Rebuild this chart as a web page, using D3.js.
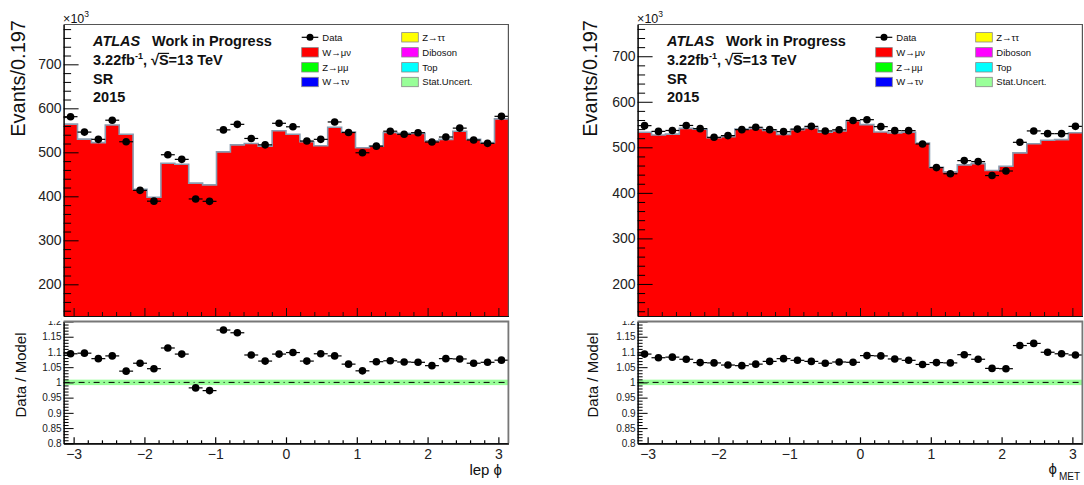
<!DOCTYPE html>
<html>
<head>
<meta charset="utf-8">
<script src="https://cdn.jsdelivr.net/npm/d3@7"></script>
<style>
  html, body { margin: 0; padding: 0; background: #fff; }
  svg { display: block; font-family: "Liberation Sans", Arial, Helvetica, sans-serif; }
</style>
</head>
<body>
<svg id="chart" width="1084" height="485"></svg>
<script>
// ---------------- data ----------------
const nBins = 32;
const binEdges = d3.range(nBins + 1).map(i => -Math.PI + i * 2 * Math.PI / nBins);

// left: lep phi  (values in units of 10^3 events)
const lepPhiModel = [564, 530, 522, 562, 541, 416, 398, 475, 473, 430, 426, 501, 517, 520, 514, 549,
                     541, 524, 515, 557, 546, 510.5, 514, 545, 543, 543, 526, 529.5, 548, 529.5, 522, 576];
const lepPhiData  = [581, 546, 529.5, 573, 524, 413.6, 389, 494.5, 484, 394, 388.6, 551, 563.6, 531.5, 517, 566,
                     558, 525.7, 529.5, 569, 545, 499, 514, 548, 541, 544.6, 523.4, 534.8, 555, 528, 520.4, 581.8];
const lepPhiRatio = [1.094, 1.096, 1.078, 1.087, 1.037, 1.063, 1.045, 1.113, 1.093, 0.982, 0.973, 1.172, 1.163, 1.090, 1.070, 1.093,
                     1.098, 1.070, 1.094, 1.087, 1.060, 1.038, 1.068, 1.071, 1.067, 1.066, 1.055, 1.078, 1.077, 1.063, 1.066, 1.073];

// right: MET phi
const metPhiModel = [533, 527, 529, 541.7, 540, 521, 523.5, 540, 541.7, 537.3, 528.5, 538.8, 542.5, 533, 536, 558.5,
                     549.8, 533.8, 531.5, 533, 509.6, 456, 446, 461.4, 464.3, 449, 458.4, 487.7, 508, 515.4, 517, 532];
const metPhiData  = [547.6, 535, 537, 548, 541, 522, 525.7, 538.8, 544, 538.8, 534.4, 540, 546, 536, 538.5, 559,
                     560.7, 545.4, 536.6, 536.6, 507.4, 455.5, 442, 470.8, 468.6, 438, 448, 511, 536, 530, 530, 546];
const metPhiRatio = [1.093, 1.081, 1.083, 1.076, 1.065, 1.064, 1.057, 1.055, 1.060, 1.069, 1.078, 1.0725, 1.069, 1.063, 1.067, 1.066,
                     1.088, 1.087, 1.077, 1.0725, 1.059, 1.065, 1.064, 1.091, 1.076, 1.046, 1.045, 1.121, 1.128, 1.099, 1.094, 1.090];

const statUnc = 0.009;

const yTicksTop   = [200, 300, 400, 500, 600, 700];
const ratioTicks  = [0.8, 0.85, 0.9, 0.95, 1.0, 1.05, 1.1, 1.15, 1.2];
const xTicks      = [-3, -2, -1, 0, 1, 2, 3];

const legendCol1 = ["Data", "W\u2192\u03bc\u03bd", "Z\u2192\u03bc\u03bc", "W\u2192\u03c4\u03bd"];
const legendCol2 = ["Z\u2192\u03c4\u03c4", "Diboson", "Top", "Stat.Uncert."];
const legendColors1 = [null, "#ff0000", "#00ff00", "#0000ff"];
const legendColors2 = ["#ffff00", "#ff00ff", "#00ffff", "#99ff99"];

const atlasLines = ["SR", "2015"];

// ---------------- layout ----------------
const svg = d3.select("#chart");
const topY0 = 24.5, topY1 = 316;
const ratY0 = 321.5, ratY1 = 443.3;

const panels = [
  { x0: 63.6, x1: 508.4, yDom: [128, 790.5], model: lepPhiModel, data: lepPhiData, ratio: lepPhiRatio,
    dx: 0, titleX: 25, xTitle: "lep", sub: null },
  { x0: 637.6, x1: 1082.4, yDom: [129.6, 769.7], model: metPhiModel, data: metPhiData, ratio: metPhiRatio,
    dx: 574, titleX: 597, xTitle: null, sub: "MET" }
];

panels.forEach((p, pi) => {
  const g = svg.append("g");
  const x = d3.scaleLinear().domain([-Math.PI, Math.PI]).range([p.x0, p.x1]);
  const y = d3.scaleLinear().domain(p.yDom).range([topY1, topY0]);
  const yr = d3.scaleLinear().domain([0.8, 1.2]).range([ratY1, ratY0]);

  const clipId = "clip" + pi;
  svg.append("clipPath").attr("id", clipId).append("rect")
    .attr("x", p.x0).attr("y", topY0).attr("width", p.x1 - p.x0).attr("height", topY1 - topY0);

  // ---- stacked histogram (W->munu dominant) ----
  const pts = p.model.map((v, i) => [binEdges[i], v]).concat([[binEdges[nBins], p.model[nBins - 1]]]);
  const area = d3.area().curve(d3.curveStepAfter).x(d => x(d[0])).y0(topY1).y1(d => y(d[1]));
  const line = d3.line().curve(d3.curveStepAfter).x(d => x(d[0])).y(d => y(d[1]));
  const hg = g.append("g").attr("clip-path", `url(#${clipId})`);
  hg.append("path").attr("d", area(pts)).attr("fill", "#ff0000");
  hg.append("path").attr("d", line(pts)).attr("fill", "none").attr("stroke", "#8a9cb0").attr("stroke-width", 1.6);

  // ---- data points ----
  const dg = g.append("g");
  p.data.forEach((v, i) => {
    dg.append("line").attr("x1", x(binEdges[i])).attr("x2", x(binEdges[i + 1]))
      .attr("y1", y(v)).attr("y2", y(v)).attr("stroke", "#000").attr("stroke-width", 1.2);
    dg.append("circle").attr("cx", x((binEdges[i] + binEdges[i + 1]) / 2)).attr("cy", y(v))
      .attr("r", 3.8).attr("fill", "#000");
  });

  // ---- top panel axes ----
  const yMajor = d3.axisLeft(y).tickValues(yTicksTop).tickSizeInner(-15).tickSizeOuter(0).tickPadding(2);
  const ya = g.append("g").attr("transform", `translate(${p.x0},0)`).call(yMajor);
  ya.selectAll("text").attr("font-size", 14).attr("fill", "#222").attr("font-family", "Liberation Sans, Arial, sans-serif");
  ya.selectAll("line, path").attr("stroke", "#000");
  const yMinorVals = d3.range(140, p.yDom[1], 20).filter(v => v % 100 !== 0);
  const yMin = d3.axisLeft(y).tickValues(yMinorVals).tickSizeInner(-7.5).tickSizeOuter(0).tickFormat("");
  g.append("g").attr("transform", `translate(${p.x0},0)`).call(yMin).selectAll("line, path").attr("stroke", "#000");

  const xMinorVals = d3.range(-15, 16).map(i => i * 0.2).filter(v => Math.abs(v - Math.round(v)) > 1e-6);
  const xTop = d3.axisBottom(x).tickValues(xTicks).tickSizeInner(-8).tickSizeOuter(0).tickFormat("");
  g.append("g").attr("transform", `translate(0,${topY1})`).call(xTop).selectAll("line, path").attr("stroke", "#111");
  const xTopMin = d3.axisBottom(x).tickValues(xMinorVals).tickSizeInner(-4).tickSizeOuter(0).tickFormat("");
  g.append("g").attr("transform", `translate(0,${topY1})`).call(xTopMin).selectAll("line, path").attr("stroke", "#111");

  // frame top/right
  g.append("path").attr("d", `M${p.x0},${topY0}H${p.x1}V${topY1}`).attr("fill", "none")
    .attr("stroke", "#555").attr("stroke-width", 1.2);

  // ---- ratio panel ----
  g.append("rect").attr("x", p.x0).attr("width", p.x1 - p.x0)
    .attr("y", yr(1 + statUnc)).attr("height", yr(1 - statUnc) - yr(1 + statUnc)).attr("fill", "#99ff99");
  g.append("line").attr("x1", p.x0).attr("x2", p.x1).attr("y1", yr(1)).attr("y2", yr(1))
    .attr("stroke", "#000").attr("stroke-width", 1).attr("stroke-dasharray", "6,4,1,4");

  p.ratio.forEach((v, i) => {
    g.append("line").attr("x1", x(binEdges[i])).attr("x2", x(binEdges[i + 1]))
      .attr("y1", yr(v)).attr("y2", yr(v)).attr("stroke", "#000").attr("stroke-width", 1.2);
    g.append("circle").attr("cx", x((binEdges[i] + binEdges[i + 1]) / 2)).attr("cy", yr(v))
      .attr("r", 3.8).attr("fill", "#000");
  });

  const fmtR = d => d3.format(".2f")(d).replace(/0+$/, "").replace(/\.$/, "");
  const yrA = d3.axisLeft(yr).tickValues(ratioTicks).tickSizeInner(-10).tickSizeOuter(0).tickPadding(2).tickFormat(fmtR);
  const yra = g.append("g").attr("transform", `translate(${p.x0},0)`).call(yrA);
  yra.selectAll("text").attr("font-size", 10).attr("fill", "#222").attr("font-family", "Liberation Sans, Arial, sans-serif");
  yra.selectAll("line, path").attr("stroke", "#000");
  const rMinorVals = d3.range(81, 120).filter(v => v % 5 !== 0).map(v => v / 100);
  const yrMin = d3.axisLeft(yr).tickValues(rMinorVals).tickSizeInner(-5).tickSizeOuter(0).tickFormat("");
  g.append("g").attr("transform", `translate(${p.x0},0)`).call(yrMin).selectAll("line, path").attr("stroke", "#000");

  const xB = d3.axisBottom(x).tickValues(xTicks).tickSizeInner(-6).tickSizeOuter(0).tickPadding(6).tickFormat(d3.format("d"));
  const xba = g.append("g").attr("transform", `translate(0,${ratY1})`).call(xB);
  xba.selectAll("text").attr("font-size", 14).attr("fill", "#222").attr("font-family", "Liberation Sans, Arial, sans-serif");
  xba.selectAll("line, path").attr("stroke", "#000").attr("stroke-width", 1.2);
  const xBMin = d3.axisBottom(x).tickValues(xMinorVals).tickSizeInner(-3).tickSizeOuter(0).tickFormat("");
  g.append("g").attr("transform", `translate(0,${ratY1})`).call(xBMin).selectAll("line, path").attr("stroke", "#000").attr("stroke-width", 1.2);

  // hide upper half of the "1.2" label (covered by upper pad)
  g.append("rect").attr("x", p.x0 - 40).attr("y", topY1 + 1).attr("width", 38).attr("height", ratY0 - topY1 - 1.5).attr("fill", "#fff");

  g.append("path").attr("d", `M${p.x0},${ratY0}H${p.x1}V${ratY1}`).attr("fill", "none")
    .attr("stroke", "#777").attr("stroke-width", 1.8);

  // ---- titles ----
  g.append("text").attr("transform", `translate(${p.titleX},20) rotate(-90)`).attr("text-anchor", "end")
    .attr("font-size", 20).attr("fill", "#111").text("Evants/0.197");
  g.append("text").attr("transform", `translate(${p.titleX + 0.5},375) rotate(-90)`).attr("text-anchor", "middle")
    .attr("font-size", 15).attr("fill", "#111").text("Data / Model");

  const mult = g.append("text").attr("x", p.x0 - 0.5).attr("y", 22.7).attr("font-size", 12.5).attr("fill", "#111");
  mult.append("tspan").text("\u00d710");
  mult.append("tspan").attr("dy", -6).attr("font-size", 8.5).text("3");

  if (p.sub === null) {
    g.append("text").attr("x", 502).attr("y", 474.5).attr("text-anchor", "end").attr("font-size", 15)
      .attr("fill", "#111").text(p.xTitle + " \u03d5");
  } else {
    const t = g.append("text").attr("x", 1080).attr("y", 474).attr("text-anchor", "end").attr("font-size", 15).attr("fill", "#111");
    t.append("tspan").text("\u03d5");
    t.append("tspan").attr("dx", 2).attr("dy", 6).attr("font-size", 10).text(p.sub);
  }

  // ---- ATLAS label ----
  const ax = 93 + p.dx;
  const t1 = g.append("text").attr("x", ax).attr("y", 45.5).attr("font-size", 14.5).attr("font-weight", "bold").attr("fill", "#111");
  t1.append("tspan").attr("font-style", "italic").text("ATLAS");
  t1.append("tspan").attr("x", ax + 59).text("Work in Progress");

  const t2 = g.append("text").attr("x", ax).attr("y", 65).attr("font-size", 14.5).attr("font-weight", "bold").attr("fill", "#111");
  t2.append("tspan").text("3.22fb");
  t2.append("tspan").attr("dy", -6).attr("font-size", 9).text("-1");
  t2.append("tspan").attr("dy", 6).text(", \u221a");
  t2.append("tspan").text("S=13 TeV");
  // overline of the square root over "S"
  const node = t2.node();
  const sIdx = 6 + 2 + 3;
  try {
    const sStart = node.getStartPositionOfChar(sIdx).x;
    const sEnd = node.getEndPositionOfChar(sIdx).x;
    g.append("line").attr("x1", sStart - 1).attr("x2", sEnd + 0.5).attr("y1", 65 - 11.6).attr("y2", 65 - 11.6)
      .attr("stroke", "#111").attr("stroke-width", 1.2);
  } catch (e) {}

  atlasLines.forEach((s, i) => {
    g.append("text").attr("x", ax).attr("y", 83.5 + i * 18.5).attr("font-size", 14.5).attr("font-weight", "bold")
      .attr("fill", "#111").text(s);
  });

  // ---- legend ----
  const rowY = [37.3, 52.3, 67.3, 82.0];
  const lx1 = 301.7 + p.dx, lx2 = 401.7 + p.dx;
  legendCol1.forEach((lab, i) => {
    if (legendColors1[i] === null) {
      g.append("line").attr("x1", lx1).attr("x2", lx1 + 16.6).attr("y1", rowY[i]).attr("y2", rowY[i]).attr("stroke", "#000").attr("stroke-width", 1.2);
      g.append("circle").attr("cx", lx1 + 8.3).attr("cy", rowY[i]).attr("r", 3.5).attr("fill", "#000");
    } else {
      g.append("rect").attr("x", lx1).attr("y", rowY[i] - 4.7).attr("width", 16.6).attr("height", 9.4)
        .attr("fill", legendColors1[i]).attr("stroke", "#888").attr("stroke-width", 0.8);
    }
    g.append("text").attr("x", lx1 + 20.6).attr("y", rowY[i]).attr("dy", "0.35em").attr("font-size", 9.5).attr("fill", "#111").text(lab);
  });
  legendCol2.forEach((lab, i) => {
    g.append("rect").attr("x", lx2).attr("y", rowY[i] - 4.7).attr("width", 16.6).attr("height", 9.4)
      .attr("fill", legendColors2[i]).attr("stroke", "#888").attr("stroke-width", 0.8);
    g.append("text").attr("x", lx2 + 20.6).attr("y", rowY[i]).attr("dy", "0.35em").attr("font-size", 9.5).attr("fill", "#111").text(lab);
  });
});
</script>
</body>
</html>
